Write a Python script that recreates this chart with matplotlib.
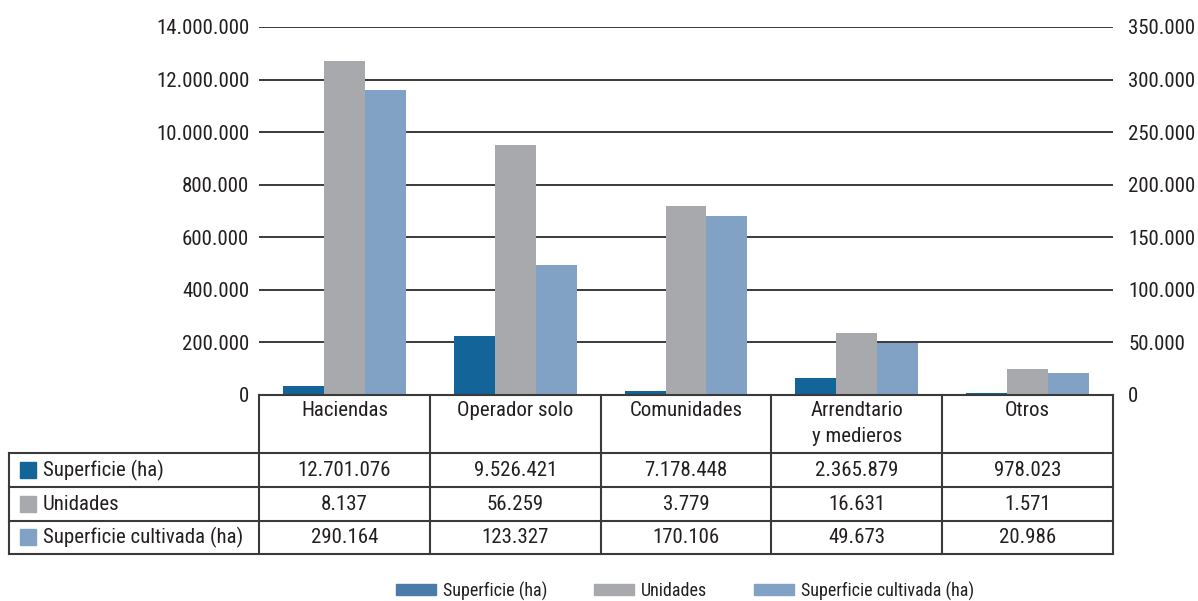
import numpy as np
import matplotlib
matplotlib.use('Agg')
import matplotlib.pyplot as plt
from matplotlib import font_manager as fm
from matplotlib.patches import Patch, Rectangle

# ---------------- data ----------------
categories = ['Haciendas', 'Operador solo', 'Comunidades', 'Arrendtario\ny medieros', 'Otros']
series_names = ['Superficie (ha)', 'Unidades', 'Superficie cultivada (ha)']
superficie = [12701076, 9526421, 7178448, 2365879, 978023]
unidades = [8137, 56259, 3779, 16631, 1571]
cultivada = [290164, 123327, 170106, 49673, 20986]
left_ticks = [0, 2000000, 4000000, 6000000, 8000000, 10000000, 12000000, 14000000]
left_ticklabels = ['0', '200.000', '400.000', '600.000', '800.000', '10.000.000', '12.000.000', '14.000.000']
right_ticks = [0, 50000, 100000, 150000, 200000, 250000, 300000, 350000]


def fmt(v):
    return f"{v:,}".replace(',', '.')


names = {f.name for f in fm.fontManager.ttflist}
family = next(f for f in ['Liberation Sans Narrow', 'Roboto Condensed', 'Liberation Sans', 'DejaVu Sans'] if f in names)
plt.rcParams['font.family'] = [family, 'DejaVu Sans']

DARK = '#136499'
GRAY = '#a8a9ad'
LIGHT = '#82a2c5'
LEG_DARK = '#4a7bab'
TXT = '#231f20'
LINE = '#3a3a3a'

W, H = 1198, 601
fig = plt.figure(figsize=(W / 100, H / 100), dpi=100)


def fx(px):
    return px / W


def fy(py):
    return 1 - py / H


FS = 15

# ---------------- chart ----------------
L, R, T, B = 259, 1113, 27, 395
ax = fig.add_axes([fx(L), fy(B), (R - L) / W, (B - T) / H])
ax2 = ax.twinx()
x = np.arange(len(categories))
w = 0.24
ax.bar(x, superficie, w, color=GRAY, zorder=2)
ax2.bar(x - w, unidades, w, color=DARK)
ax2.bar(x + w, cultivada, w, color=LIGHT)
ax.set_xlim(-0.5, len(categories) - 0.5)
ax.set_ylim(0, 14000000)
ax2.set_ylim(0, 350000)
ax.set_yticks(left_ticks, left_ticklabels)
ax2.set_yticks(right_ticks, [fmt(v) for v in right_ticks])
ax.set_xticks([])
ax.yaxis.grid(True, color=LINE, lw=1.4)
ax.set_axisbelow(True)
for a in (ax, ax2):
    for s in a.spines.values():
        s.set_visible(False)
ax.tick_params(axis='y', length=0, pad=7, labelsize=FS, labelcolor=TXT)
ax2.tick_params(axis='y', length=0, pad=11, labelsize=FS, labelcolor=TXT)

# ---------------- table ----------------
TL, TR, TT, TB = 9.3, 1113, 394.5, 553.5
tab = fig.add_axes([fx(TL), fy(TB), (TR - TL) / W, (TB - TT) / H])
unit = (R - L) / len(categories)
x0 = -0.5 - (L - TL) / unit
tab.set_xlim(x0, len(categories) - 0.5)
tab.set_ylim(TB, TT)
tab.axis('off')


def xu(px):
    return x0 + (px - TL) / unit


row_edges = [394.5, 453, 487, 521, 553.5]
lk = dict(color=LINE, lw=1.5, clip_on=False, solid_capstyle='projecting')
tab.plot([-0.5, len(categories) - 0.5], [row_edges[0]] * 2, **lk)
for ye in row_edges[1:]:
    tab.plot([x0, len(categories) - 0.5], [ye, ye], **lk)
tab.plot([x0, x0], [row_edges[1], row_edges[-1]], **lk)
for xe in np.arange(-0.5, len(categories), 1.0):
    tab.plot([xe, xe], [row_edges[0], row_edges[-1]], **lk)

for i, c in enumerate(categories):
    tab.text(i, 401, c, ha='center', va='top', fontsize=FS, color=TXT, linespacing=1.45)

rows = [superficie, unidades, cultivada]
cols = [DARK, GRAY, LIGHT]
for r, (name, vals, col) in enumerate(zip(series_names, rows, cols)):
    yc = (row_edges[r + 1] + row_edges[r + 2]) / 2
    tab.add_patch(Rectangle((xu(20), yc - 8), xu(36) - xu(20), 16, color=col, clip_on=False))
    tab.text(xu(43), yc, name, ha='left', va='center', fontsize=FS, color=TXT)
    for i, v in enumerate(vals):
        tab.text(i, yc, fmt(v), ha='center', va='center', fontsize=FS, color=TXT)

# ---------------- legend ----------------
handles = [Patch(color=c, label=n) for c, n in zip([LEG_DARK, GRAY, LIGHT], series_names)]
fig.legend(handles=handles, ncol=3, loc='center', bbox_to_anchor=(fx(685), fy(591)),
           frameon=False, fontsize=13, handlelength=2.2, handleheight=0.55,
           handletextpad=0.4, columnspacing=2.6, labelcolor=TXT)

fig.savefig('out.png', dpi=100)
